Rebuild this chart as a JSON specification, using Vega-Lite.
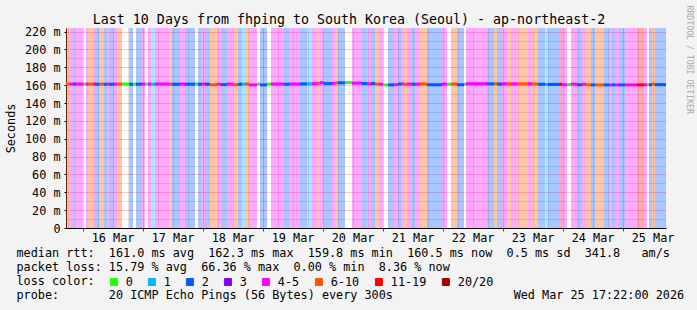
{
  "$schema": "https://vega.github.io/schema/vega-lite/v6.json",
  "width": 600,
  "height": 200,
  "autosize": {"type": "none"},
  "padding": {"left": 66, "top": 28, "right": 31, "bottom": 82},
  "config": {
    "background": "#f3f3f3",
    "view": {"fill": "#ffffff", "stroke": null},
    "font": "DejaVu Sans Mono"
  },
  "title": {
    "text": "Last 10 Days from fhping to South Korea (Seoul) - ap-northeast-2",
    "font": "DejaVu Sans Mono",
    "fontSize": 13.3,
    "fontWeight": "normal",
    "color": "#000000",
    "anchor": "middle",
    "frame": "bounds",
    "offset": 0,
    "baseline": "alphabetic",
    "dy": 32
  },
  "data": {
    "values": [
      {"s": "2026-03-15T17:22", "e": "2026-03-15T18:58", "loss": "6-10", "rtt": 161.3},
      {"s": "2026-03-15T18:58", "e": "2026-03-15T20:10", "loss": "4-5", "rtt": 161.3},
      {"s": "2026-03-15T20:10", "e": "2026-03-15T21:22", "loss": "2", "rtt": 161.2},
      {"s": "2026-03-15T21:22", "e": "2026-03-16T00:10", "loss": "4-5", "rtt": 161.3},
      {"s": "2026-03-16T00:10", "e": "2026-03-16T01:22", "loss": "0", "rtt": 161.2},
      {"s": "2026-03-16T01:22", "e": "2026-03-16T02:10", "loss": "4-5", "rtt": 161.3},
      {"s": "2026-03-16T02:10", "e": "2026-03-16T04:10", "loss": "6-10", "rtt": 161.2},
      {"s": "2026-03-16T04:10", "e": "2026-03-16T04:58", "loss": "4-5", "rtt": 161.3},
      {"s": "2026-03-16T04:58", "e": "2026-03-16T06:34", "loss": "2", "rtt": 161.0},
      {"s": "2026-03-16T06:34", "e": "2026-03-16T08:34", "loss": "6-10", "rtt": 161.2},
      {"s": "2026-03-16T08:34", "e": "2026-03-16T09:46", "loss": "2", "rtt": 161.0},
      {"s": "2026-03-16T09:46", "e": "2026-03-16T10:34", "loss": "4-5", "rtt": 161.3},
      {"s": "2026-03-16T10:34", "e": "2026-03-16T12:34", "loss": "2", "rtt": 161.0},
      {"s": "2026-03-16T12:34", "e": "2026-03-16T13:46", "loss": "4-5", "rtt": 161.2},
      {"s": "2026-03-16T13:46", "e": "2026-03-16T15:46", "loss": "6-10", "rtt": 161.3},
      {"s": "2026-03-16T15:46", "e": "2026-03-16T18:34", "loss": "0", "rtt": 161.2},
      {"s": "2026-03-16T18:34", "e": "2026-03-16T18:58", "loss": "4-5", "rtt": 161.3},
      {"s": "2026-03-16T18:58", "e": "2026-03-16T20:10", "loss": "2", "rtt": 161.0},
      {"s": "2026-03-16T20:10", "e": "2026-03-16T21:22", "loss": "0", "rtt": 161.2},
      {"s": "2026-03-16T21:22", "e": "2026-03-16T23:46", "loss": "2", "rtt": 161.1},
      {"s": "2026-03-16T23:46", "e": "2026-03-17T00:58", "loss": "4-5", "rtt": 161.3},
      {"s": "2026-03-17T00:58", "e": "2026-03-17T02:10", "loss": "0", "rtt": 161.2},
      {"s": "2026-03-17T02:10", "e": "2026-03-17T03:22", "loss": "4-5", "rtt": 161.3},
      {"s": "2026-03-17T03:22", "e": "2026-03-17T04:58", "loss": "1", "rtt": 161.1},
      {"s": "2026-03-17T04:58", "e": "2026-03-17T10:34", "loss": "4-5", "rtt": 161.3},
      {"s": "2026-03-17T10:34", "e": "2026-03-17T11:46", "loss": "6-10", "rtt": 161.2},
      {"s": "2026-03-17T11:46", "e": "2026-03-17T14:58", "loss": "2", "rtt": 161.0},
      {"s": "2026-03-17T14:58", "e": "2026-03-17T16:58", "loss": "4-5", "rtt": 161.3},
      {"s": "2026-03-17T16:58", "e": "2026-03-17T20:58", "loss": "2", "rtt": 161.1},
      {"s": "2026-03-17T20:58", "e": "2026-03-17T22:10", "loss": "0", "rtt": 161.3},
      {"s": "2026-03-17T22:10", "e": "2026-03-17T23:46", "loss": "2", "rtt": 161.0},
      {"s": "2026-03-17T23:46", "e": "2026-03-18T00:58", "loss": "4-5", "rtt": 161.3},
      {"s": "2026-03-18T00:58", "e": "2026-03-18T02:58", "loss": "2", "rtt": 161.1},
      {"s": "2026-03-18T02:58", "e": "2026-03-18T05:46", "loss": "6-10", "rtt": 160.4},
      {"s": "2026-03-18T05:46", "e": "2026-03-18T07:22", "loss": "4-5", "rtt": 161.0},
      {"s": "2026-03-18T07:22", "e": "2026-03-18T09:46", "loss": "2", "rtt": 160.6},
      {"s": "2026-03-18T09:46", "e": "2026-03-18T12:10", "loss": "4-5", "rtt": 161.3},
      {"s": "2026-03-18T12:10", "e": "2026-03-18T14:10", "loss": "6-10", "rtt": 160.5},
      {"s": "2026-03-18T14:10", "e": "2026-03-18T15:46", "loss": "2", "rtt": 161.0},
      {"s": "2026-03-18T15:46", "e": "2026-03-18T16:58", "loss": "1", "rtt": 161.2},
      {"s": "2026-03-18T16:58", "e": "2026-03-18T18:34", "loss": "6-10", "rtt": 161.3},
      {"s": "2026-03-18T18:34", "e": "2026-03-18T21:46", "loss": "4-5", "rtt": 160.3},
      {"s": "2026-03-18T21:46", "e": "2026-03-18T22:58", "loss": "0", "rtt": 161.2},
      {"s": "2026-03-18T22:58", "e": "2026-03-19T01:46", "loss": "2", "rtt": 160.3},
      {"s": "2026-03-19T01:46", "e": "2026-03-19T03:22", "loss": "0", "rtt": 161.2},
      {"s": "2026-03-19T03:22", "e": "2026-03-19T08:34", "loss": "4-5", "rtt": 161.3},
      {"s": "2026-03-19T08:34", "e": "2026-03-19T10:34", "loss": "2", "rtt": 161.0},
      {"s": "2026-03-19T10:34", "e": "2026-03-19T14:58", "loss": "4-5", "rtt": 161.3},
      {"s": "2026-03-19T14:58", "e": "2026-03-19T17:46", "loss": "2", "rtt": 161.4},
      {"s": "2026-03-19T17:46", "e": "2026-03-19T19:46", "loss": "1", "rtt": 161.5},
      {"s": "2026-03-19T19:46", "e": "2026-03-19T21:46", "loss": "4-5", "rtt": 161.7},
      {"s": "2026-03-19T21:46", "e": "2026-03-19T22:58", "loss": "6-10", "rtt": 162.0},
      {"s": "2026-03-19T22:58", "e": "2026-03-20T00:34", "loss": "4-5", "rtt": 162.8},
      {"s": "2026-03-20T00:34", "e": "2026-03-20T03:46", "loss": "2", "rtt": 161.8},
      {"s": "2026-03-20T03:46", "e": "2026-03-20T04:58", "loss": "4-5", "rtt": 162.0},
      {"s": "2026-03-20T04:58", "e": "2026-03-20T06:10", "loss": "6-10", "rtt": 162.5},
      {"s": "2026-03-20T06:10", "e": "2026-03-20T08:58", "loss": "2", "rtt": 162.6},
      {"s": "2026-03-20T08:58", "e": "2026-03-20T11:46", "loss": "0", "rtt": 162.8},
      {"s": "2026-03-20T11:46", "e": "2026-03-20T15:46", "loss": "4-5", "rtt": 162.3},
      {"s": "2026-03-20T15:46", "e": "2026-03-20T17:46", "loss": "2", "rtt": 161.8},
      {"s": "2026-03-20T17:46", "e": "2026-03-20T19:22", "loss": "4-5", "rtt": 161.5},
      {"s": "2026-03-20T19:22", "e": "2026-03-20T20:58", "loss": "2", "rtt": 161.8},
      {"s": "2026-03-20T20:58", "e": "2026-03-20T22:34", "loss": "6-10", "rtt": 161.3},
      {"s": "2026-03-20T22:34", "e": "2026-03-21T00:10", "loss": "4-5", "rtt": 161.0},
      {"s": "2026-03-21T00:10", "e": "2026-03-21T02:10", "loss": "0", "rtt": 160.2},
      {"s": "2026-03-21T02:10", "e": "2026-03-21T04:34", "loss": "2", "rtt": 160.3},
      {"s": "2026-03-21T04:34", "e": "2026-03-21T06:10", "loss": "4-5", "rtt": 160.6},
      {"s": "2026-03-21T06:10", "e": "2026-03-21T07:22", "loss": "2", "rtt": 161.2},
      {"s": "2026-03-21T07:22", "e": "2026-03-21T08:34", "loss": "4-5", "rtt": 161.4},
      {"s": "2026-03-21T08:34", "e": "2026-03-21T09:46", "loss": "6-10", "rtt": 161.0},
      {"s": "2026-03-21T09:46", "e": "2026-03-21T11:46", "loss": "4-5", "rtt": 161.2},
      {"s": "2026-03-21T11:46", "e": "2026-03-21T12:58", "loss": "2", "rtt": 161.0},
      {"s": "2026-03-21T12:58", "e": "2026-03-21T14:58", "loss": "4-5", "rtt": 161.2},
      {"s": "2026-03-21T14:58", "e": "2026-03-21T17:46", "loss": "6-10", "rtt": 161.4},
      {"s": "2026-03-21T17:46", "e": "2026-03-21T23:46", "loss": "2", "rtt": 160.4},
      {"s": "2026-03-21T23:46", "e": "2026-03-22T01:46", "loss": "4-5", "rtt": 161.2},
      {"s": "2026-03-22T01:46", "e": "2026-03-22T03:22", "loss": "0", "rtt": 161.0},
      {"s": "2026-03-22T03:22", "e": "2026-03-22T05:46", "loss": "6-10", "rtt": 161.3},
      {"s": "2026-03-22T05:46", "e": "2026-03-22T08:34", "loss": "2", "rtt": 160.5},
      {"s": "2026-03-22T08:34", "e": "2026-03-22T09:22", "loss": "0", "rtt": 161.0},
      {"s": "2026-03-22T09:22", "e": "2026-03-22T17:46", "loss": "4-5", "rtt": 161.6},
      {"s": "2026-03-22T17:46", "e": "2026-03-22T20:34", "loss": "2", "rtt": 161.5},
      {"s": "2026-03-22T20:34", "e": "2026-03-22T21:46", "loss": "6-10", "rtt": 161.6},
      {"s": "2026-03-22T21:46", "e": "2026-03-22T23:46", "loss": "2", "rtt": 161.3},
      {"s": "2026-03-22T23:46", "e": "2026-03-23T01:46", "loss": "4-5", "rtt": 161.6},
      {"s": "2026-03-23T01:46", "e": "2026-03-23T03:22", "loss": "6-10", "rtt": 161.5},
      {"s": "2026-03-23T03:22", "e": "2026-03-23T05:46", "loss": "4-5", "rtt": 161.5},
      {"s": "2026-03-23T05:46", "e": "2026-03-23T10:10", "loss": "6-10", "rtt": 161.5},
      {"s": "2026-03-23T10:10", "e": "2026-03-23T11:46", "loss": "4-5", "rtt": 161.6},
      {"s": "2026-03-23T11:46", "e": "2026-03-23T14:10", "loss": "6-10", "rtt": 161.3},
      {"s": "2026-03-23T14:10", "e": "2026-03-23T16:58", "loss": "2", "rtt": 161.0},
      {"s": "2026-03-23T16:58", "e": "2026-03-23T18:10", "loss": "1", "rtt": 160.8},
      {"s": "2026-03-23T18:10", "e": "2026-03-23T22:34", "loss": "2", "rtt": 160.8},
      {"s": "2026-03-23T22:34", "e": "2026-03-23T23:46", "loss": "11-19", "rtt": 161.0},
      {"s": "2026-03-23T23:46", "e": "2026-03-24T01:46", "loss": "4-5", "rtt": 160.5},
      {"s": "2026-03-24T01:46", "e": "2026-03-24T03:22", "loss": "0", "rtt": 160.6},
      {"s": "2026-03-24T03:22", "e": "2026-03-24T05:46", "loss": "4-5", "rtt": 161.2},
      {"s": "2026-03-24T05:46", "e": "2026-03-24T07:46", "loss": "2", "rtt": 160.4},
      {"s": "2026-03-24T07:46", "e": "2026-03-24T09:22", "loss": "4-5", "rtt": 161.0},
      {"s": "2026-03-24T09:22", "e": "2026-03-24T11:22", "loss": "6-10", "rtt": 160.4},
      {"s": "2026-03-24T11:22", "e": "2026-03-24T12:58", "loss": "2", "rtt": 160.3},
      {"s": "2026-03-24T12:58", "e": "2026-03-24T16:34", "loss": "6-10", "rtt": 160.3},
      {"s": "2026-03-24T16:34", "e": "2026-03-24T18:34", "loss": "2", "rtt": 160.3},
      {"s": "2026-03-24T18:34", "e": "2026-03-24T19:46", "loss": "4-5", "rtt": 160.2},
      {"s": "2026-03-24T19:46", "e": "2026-03-24T20:58", "loss": "2", "rtt": 160.3},
      {"s": "2026-03-24T20:58", "e": "2026-03-24T22:34", "loss": "4-5", "rtt": 160.3},
      {"s": "2026-03-24T22:34", "e": "2026-03-25T00:58", "loss": "2", "rtt": 160.3},
      {"s": "2026-03-25T00:58", "e": "2026-03-25T05:46", "loss": "4-5", "rtt": 160.3},
      {"s": "2026-03-25T05:46", "e": "2026-03-25T08:34", "loss": "11-19", "rtt": 160.3},
      {"s": "2026-03-25T08:34", "e": "2026-03-25T09:46", "loss": "4-5", "rtt": 160.4},
      {"s": "2026-03-25T09:46", "e": "2026-03-25T10:34", "loss": "0", "rtt": 160.5},
      {"s": "2026-03-25T10:34", "e": "2026-03-25T11:46", "loss": "2", "rtt": 160.4},
      {"s": "2026-03-25T11:46", "e": "2026-03-25T12:58", "loss": "6-10", "rtt": 161.2},
      {"s": "2026-03-25T12:58", "e": "2026-03-25T17:22", "loss": "2", "rtt": 160.6}
    ]
  },
  "resolve": {"axis": {"y": "independent"}},
  "layer": [
    {
      "transform": [{"filter": "datum.loss !== '0'"}],
      "mark": {"type": "rect", "opacity": 0.34},
      "encoding": {
        "x": {
          "field": "s",
          "type": "temporal",
          "scale": {"domain": [{"year": 2026, "month": 3, "date": 15, "hours": 17, "minutes": 22}, {"year": 2026, "month": 3, "date": 25, "hours": 17, "minutes": 22}]},
          "axis": {
            "orient": "bottom",
            "tickCount": 40,
            "grid": true,
            "gridColor": {"condition": {"test": "hours(datum.value) === 0", "value": "#ff0000"}, "value": "#808080"},
            "gridOpacity": 0.45,
            "gridDash": [1, 1],
            "gridWidth": 1,
            "ticks": true,
            "tickSize": 3,
            "tickColor": {"condition": {"test": "hours(datum.value) === 0", "value": "#ff0000"}, "value": "transparent"},
            "domainColor": "#000000",
            "labelExpr": "hours(datum.value) === 12 ? timeFormat(datum.value, '%d %b') : ''",
            "labelOverlap": false,
            "labelFlush": false,
            "labelBound": false,
            "labelFont": "DejaVu Sans Mono",
            "labelFontSize": 11.8,
            "labelColor": "#000000",
            "labelPadding": 1,
            "title": [
              "median\u00a0rtt:\u00a0\u00a0161.0\u00a0ms\u00a0avg\u00a0\u00a0162.3\u00a0ms\u00a0max\u00a0\u00a0159.8\u00a0ms\u00a0min\u00a0\u00a0160.5\u00a0ms\u00a0now\u00a0\u00a00.5\u00a0ms\u00a0sd\u00a0\u00a0341.8\u00a0\u00a0\u00a0am/s",
              "packet\u00a0loss:\u00a015.79\u00a0%\u00a0avg\u00a0\u00a066.36\u00a0%\u00a0max\u00a0\u00a00.00\u00a0%\u00a0min\u00a0\u00a08.36\u00a0%\u00a0now",
              "loss\u00a0color:",
              "probe:\u00a0\u00a0\u00a0\u00a0\u00a0\u00a0\u00a020\u00a0ICMP\u00a0Echo\u00a0Pings\u00a0(56\u00a0Bytes)\u00a0every\u00a0300s\u00a0\u00a0\u00a0\u00a0\u00a0\u00a0\u00a0\u00a0\u00a0\u00a0\u00a0\u00a0\u00a0\u00a0\u00a0\u00a0\u00a0Wed\u00a0Mar\u00a025\u00a017:22:00\u00a02026"
            ],
            "titleFont": "DejaVu Sans Mono",
            "titleFontSize": 11.8,
            "titleFontWeight": "normal",
            "titleColor": "#000000",
            "titleAnchor": "start",
            "titleAlign": "left",
            "titleBaseline": "top",
            "titleX": -50,
            "titleY": 19,
            "titleLineHeight": 14.3
          }
        },
        "x2": {"field": "e"},
        "y": {
          "datum": 0,
          "type": "quantitative",
          "scale": {"domain": [0, 224], "nice": false, "zero": false},
          "axis": {
            "orient": "left",
            "values": [0, 10, 20, 30, 40, 50, 60, 70, 80, 90, 100, 110, 120, 130, 140, 150, 160, 170, 180, 190, 200, 210, 220],
            "labelExpr": "datum.value === 0 ? '0' : (datum.value % 20 === 0 ? datum.value + ' m' : '')",
            "grid": true,
            "gridColor": {"condition": {"test": "datum.value % 20 === 0", "value": "#ff0000"}, "value": "#808080"},
            "gridOpacity": 0.45,
            "gridDash": [1, 1],
            "gridWidth": 1,
            "tickSize": 2,
            "tickColor": {"condition": {"test": "datum.value % 20 === 0", "value": "#000000"}, "value": "transparent"},
            "domainColor": "#000000",
            "labelFont": "DejaVu Sans Mono",
            "labelFontSize": 11.8,
            "labelColor": "#000000",
            "labelPadding": 4,
            "labelOverlap": false,
            "title": "Seconds",
            "titleFont": "DejaVu Sans Mono",
            "titleFontSize": 11.8,
            "titleFontWeight": "normal",
            "titleColor": "#000000",
            "titleX": -56,
            "titleY": 100,
            "titleAngle": -90,
            "titleAlign": "center",
            "titleBaseline": "middle"
          }
        },
        "y2": {"datum": 224},
        "color": {
          "field": "loss",
          "type": "nominal",
          "scale": {
            "domain": ["0", "1", "2", "3", "4-5", "6-10", "11-19", "20/20"],
            "range": ["#26ff00", "#00b8ff", "#0059ff", "#7e00ff", "#ff00ff", "#ff5500", "#ff0000", "#a10000"]
          },
          "legend": {
            "orient": "none",
            "legendX": 42,
            "legendY": 248,
            "direction": "horizontal",
            "title": null,
            "padding": 0,
            "symbolType": "square",
            "symbolSize": 49,
            "symbolStrokeColor": "#000000",
            "symbolStrokeWidth": 1,
            "symbolOpacity": 1,
            "labelFont": "DejaVu Sans Mono",
            "labelFontSize": 11.8,
            "labelColor": "#000000",
            "labelOffset": 6,
            "columnPadding": 13,
            "labelLimit": 100
          }
        }
      }
    },
    {
      "mark": {"type": "rule", "strokeWidth": 3, "strokeCap": "butt"},
      "encoding": {
        "x": {"field": "s", "type": "temporal"},
        "x2": {"field": "e"},
        "y": {
          "field": "rtt",
          "type": "quantitative",
          "axis": {
            "orient": "right",
            "labels": false,
            "ticks": false,
            "domain": false,
            "grid": false,
            "title": "RRDTOOL / TOBI OETIKER",
            "titleFont": "DejaVu Sans Mono",
            "titleFontSize": 8.2,
            "titleFontWeight": "normal",
            "titleColor": "#aaaaaa",
            "titleAngle": 90,
            "titleX": 22,
            "titleY": -23,
            "titleAlign": "left",
            "titleBaseline": "middle"
          }
        },
        "color": {"field": "loss", "type": "nominal", "legend": null}
      }
    }
  ]
}
